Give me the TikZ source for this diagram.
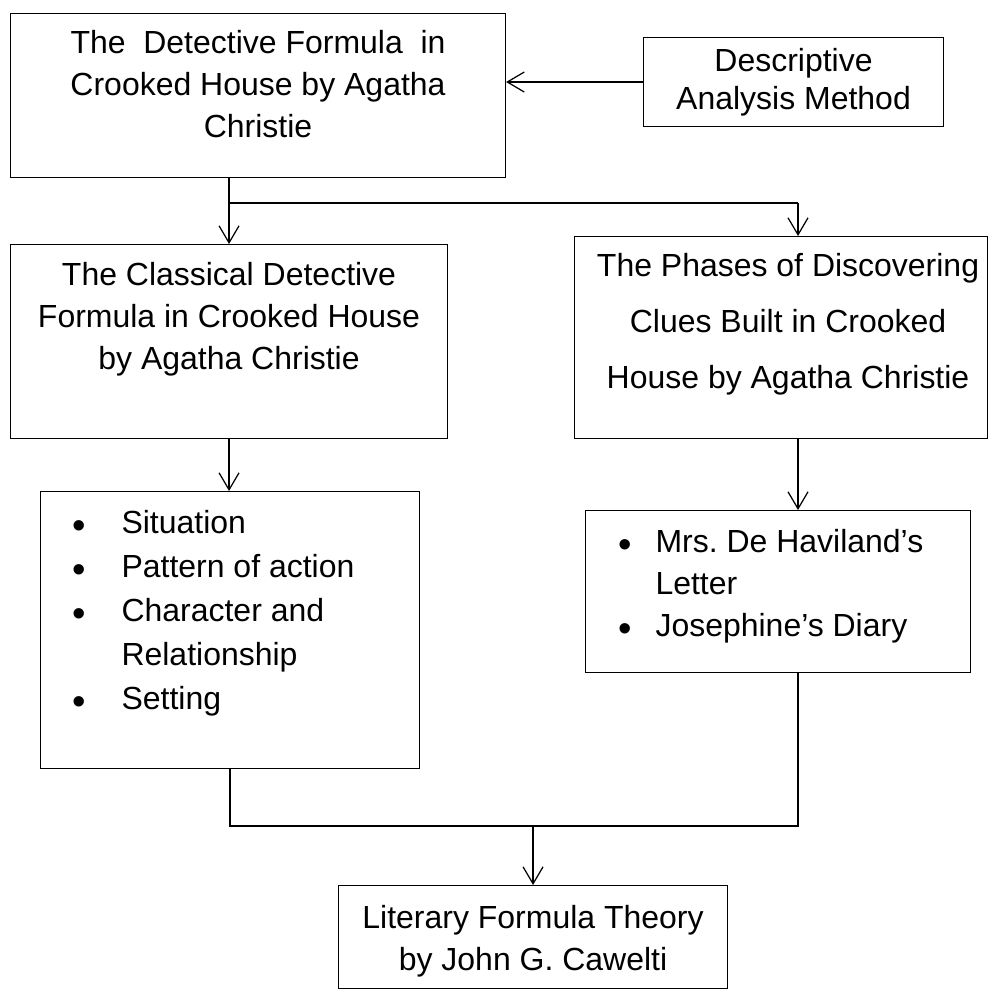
\documentclass[tikz,border=0pt]{standalone}
\usepackage{fontspec}
\setmainfont{Liberation Sans}
\usetikzlibrary{positioning,calc,arrows.meta}

\newlength{\pxu}\setlength{\pxu}{0.02cm}
% box text: width, height, top pad, line skip, text
\newcommand{\topbox}[5]{\parbox[c][#2\pxu][t]{#1\pxu}{\fontsize{18.2pt}{#4\pxu}\selectfont\centering\vspace*{#3\pxu}#5\par}}
\newcommand{\bitem}[1]{\leavevmode\llap{\makebox[11\pxu]{\raisebox{-4.5\pxu}{\scalebox{1.2}{\textbullet}}}\hspace{#1\pxu}}}

\tikzset{
  framebox/.style={draw, line width=0.6pt, inner sep=0pt, anchor=north west},
  link/.style={line width=0.7pt},
  arr/.style={link, -{Straight Barb[length=0.34cm, width=0.4cm]}}
}

\begin{document}
\begin{tikzpicture}[x=0.02cm, y=-0.02cm]
    \useasboundingbox (0,0) rectangle (989,989);

    % Top row
    \node[framebox] (detect) at (10,13) {\topbox{495}{164}{17}{42}{The~ Detective Formula~ in\\Crooked House by Agatha\\Christie}};
    \node[framebox] (method) at (643,37) {\parbox[c][89\pxu][c]{300\pxu}{\fontsize{18.2pt}{38\pxu}\selectfont\centering Descriptive\\Analysis Method\par}};

    % Second row
    \node[framebox] (classic) at (10,244) {\topbox{437}{194}{18}{42}{The Classical Detective\\Formula in Crooked House\\by Agatha Christie}};
    \node[framebox] (phases) at (574,236) {\parbox[c][202\pxu][t]{413\pxu}{\fontsize{18.2pt}{56\pxu}\selectfont
        \centering\leftskip=14\pxu plus 1fil\vspace*{17\pxu}%
        The Phases of Discovering\\Clues Built in Crooked\\House by Agatha Christie\par}};

    % Bullet lists
    \node[framebox] (elements) at (40,491) {\parbox[c][277\pxu][t]{379\pxu}{\fontsize{18.2pt}{44\pxu}\selectfont\raggedright\leftskip=81\pxu\parindent=0pt\vspace*{19\pxu}%
        \bitem{36.5}Situation\par
        \bitem{36.5}Pattern of action\par
        \bitem{36.5}Character and\\Relationship\par
        \bitem{36.5}Setting\par}};
    \node[framebox] (clues) at (585,510) {\parbox[c][162\pxu][t]{385\pxu}{\fontsize{18.2pt}{42\pxu}\selectfont\raggedright\leftskip=70\pxu\parindent=0pt\vspace*{19\pxu}%
        \bitem{24.5}Mrs.\ De Haviland’s\\Letter\par
        \bitem{24.5}Josephine’s Diary\par}};

    % Theory
    \node[framebox] (theory) at (338,885) {\topbox{389}{103}{20}{42}{Literary Formula Theory\\by John G. Cawelti}};

    % Connectors
    \coordinate (rsplit) at (798,203);
    \coordinate (bline) at (0,826);
    \draw[arr] (method.west) -- (method.west -| detect.east);
    \draw[arr] (classic.north |- detect.south) -- (classic.north);
    \draw[link] (classic.north |- rsplit) -- (rsplit);
    \draw[arr] (rsplit) -- (rsplit |- phases.north);
    \draw[arr] (classic.south) -- (classic.south |- elements.north);
    \draw[arr] (rsplit |- phases.south) -- (rsplit |- clues.north);
    \draw[link] (elements.south) -- (elements.south |- bline) -- (rsplit |- bline) -- (rsplit |- clues.south);
    \draw[arr] (theory.north |- bline) -- (theory.north);
\end{tikzpicture}
\end{document}
